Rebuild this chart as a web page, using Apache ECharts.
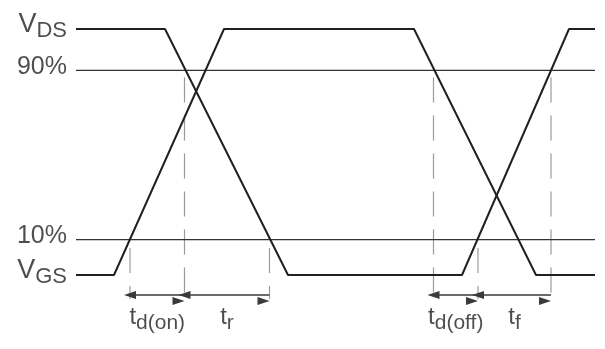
<!DOCTYPE html>
<html>
<head>
<meta charset="utf-8">
<script src="https://cdn.jsdelivr.net/npm/echarts@6/dist/echarts.min.js"></script>
<style>
  html, body { margin: 0; padding: 0; background: #fff; }
  #chart { width: 605px; height: 349px; }
</style>
</head>
<body>
<div id="chart"></div>
<script>
// switching waveforms, time in arbitrary units, level in % of full swing
var tStart = 76, tEnd = 595;
var vdsT = [76, 165, 288, 462, 569, 595];
var vdsV = [100, 100, 0, 0, 100, 100];
var vgsT = [76, 114, 224, 414, 536, 595];
var vgsV = [0, 0, 100, 100, 0, 0];

// 90% / 10% reference levels
var refNames = ['90%', '10%'];
var refLevels = [83.2, 14.4];

// timing marks (dashed verticals)
var markT = [130, 184.5, 269.5, 433.5, 478, 551];
var markTop = [11, 80.3, 11, 80.3, 11, 80.3];
var markBottom = -9.8;

// timing intervals: index pairs into markT
var spanFrom = [0, 1, 3, 4];
var spanTo = [1, 2, 4, 5];
var spanSub = ['d(on)', 'r', 'd(off)', 'f'];
var arrowLevel = -8.1;

function pairs(xs, ys) {
    return xs.map(function (x, i) { return [x, ys[i]]; });
}

var font = '"Liberation Sans", Arial, sans-serif';
var ink = '#231f20';

var e = echarts.init(document.getElementById('chart'));

var dashed = markT.map(function (t, i) {
    return {
        type: 'line',
        data: [[t, markTop[i]], [t, markBottom]],
        showSymbol: false,
        silent: true,
        lineStyle: { color: '#9a9a9a', width: 1.2, type: [25, 13] },
        z: 1
    };
});

var refs = refLevels.map(function (lv) {
    return {
        type: 'line',
        data: [[tStart, lv], [tEnd, lv]],
        showSymbol: false,
        silent: true,
        lineStyle: { color: '#333', width: 1.3 },
        z: 2
    };
});

var leftLabels = [
    { name: 'V', sub: 'DS', value: [tStart, 100] },
    { name: refNames[0], sub: '', value: [tStart, refLevels[0]] },
    { name: refNames[1], sub: '', value: [tStart, refLevels[1]] },
    { name: 'V', sub: 'GS', value: [tStart, 0] }
];

var spanLabels = spanFrom.map(function (a, i) {
    return {
        name: 't',
        sub: spanSub[i],
        value: [(markT[a] + markT[spanTo[i]]) / 2, arrowLevel]
    };
});

option = {
    animation: false,
    grid: { left: 0, right: 0, top: 4.4, bottom: 0.2 },
    xAxis: { type: 'value', min: 0, max: 605, show: false },
    yAxis: { type: 'value', min: -30, max: 110, show: false },
    series: dashed.concat(refs).concat([
        {
            name: 'VDS',
            type: 'line',
            data: pairs(vdsT, vdsV),
            showSymbol: false,
            silent: true,
            lineStyle: { color: ink, width: 2 },
            z: 3
        },
        {
            name: 'VGS',
            type: 'line',
            data: pairs(vgsT, vgsV),
            showSymbol: false,
            silent: true,
            lineStyle: { color: ink, width: 2 },
            z: 3
        },
        {
            type: 'scatter',
            data: leftLabels,
            symbolSize: 0.1,
            itemStyle: { color: 'transparent' },
            silent: true,
            label: {
                show: true,
                position: 'left',
                distance: 9,
                offset: [0, -3],
                formatter: function (p) {
                    var d = p.data;
                    return d.sub ? '{v|' + d.name + '}{s|' + d.sub + '}' : '{p|' + d.name + '}';
                },
                rich: {
                    v: { fontFamily: font, fontSize: 27, lineHeight: 30, color: ink, verticalAlign: 'top' },
                    s: { fontFamily: font, fontSize: 22, lineHeight: 22, padding: [9, 0, 0, 0], color: ink, verticalAlign: 'top' },
                    p: { fontFamily: font, fontSize: 25, lineHeight: 30, color: ink }
                }
            },
            z: 5
        },
        {
            type: 'scatter',
            data: spanLabels,
            symbolSize: 0.1,
            itemStyle: { color: 'transparent' },
            silent: true,
            label: {
                show: true,
                position: 'bottom',
                distance: 10,
                formatter: function (p) {
                    return '{t|t}{s|' + p.data.sub + '}';
                },
                rich: {
                    t: { fontFamily: font, fontSize: 24, lineHeight: 28, color: ink, verticalAlign: 'top' },
                    s: { fontFamily: font, fontSize: 21, lineHeight: 20, padding: [8, 0, 0, 0], color: ink, verticalAlign: 'top' }
                }
            },
            markLine: {
                silent: true,
                symbol: ['triangle', 'triangle'],
                symbolSize: [8, 12],
                symbolOffset: [0, 6],
                label: { show: false },
                lineStyle: { color: '#3a3a3a', width: 1.5, type: 'solid' },
                data: spanFrom.map(function (a, i) {
                    return [
                        { coord: [markT[a], arrowLevel] },
                        { coord: [markT[spanTo[i]], arrowLevel] }
                    ];
                })
            },
            z: 5
        }
    ])
};

e.setOption(option);
</script>
</body>
</html>
